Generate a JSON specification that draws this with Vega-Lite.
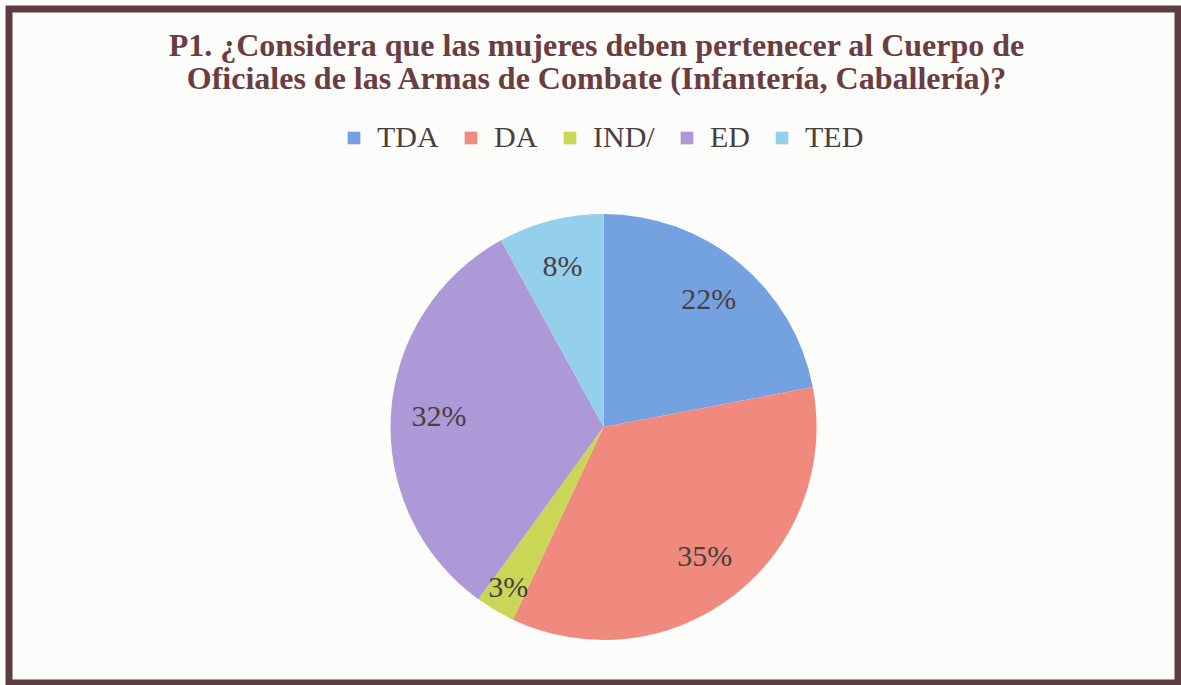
{
  "$schema": "https://vega.github.io/schema/vega-lite/v6.json",
  "width": 1169,
  "height": 674,
  "autosize": {"type": "none"},
  "padding": {"left": 9, "top": 9, "right": 3, "bottom": 2},
  "background": "#ffffff",
  "view": {"stroke": "#5e3b41", "strokeWidth": 7, "fill": "#fcfcfa"},
  "title": {
    "text": ["P1. ¿Considera que las mujeres deben pertenecer al Cuerpo de", "Oficiales de las Armas de Combate (Infantería, Caballería)?"],
    "anchor": "middle",
    "frame": "group",
    "orient": "top",
    "baseline": "top",
    "offset": -87,
    "dx": 3,
    "font": "Liberation Serif",
    "fontSize": 32,
    "fontWeight": "bold",
    "color": "#6a3d42",
    "lineHeight": 33
  },
  "data": {
    "values": [
      {"cat": "TDA", "escala": 1, "pct": 0.22},
      {"cat": "DA", "escala": 2, "pct": 0.35},
      {"cat": "IND/", "escala": 3, "pct": 0.03},
      {"cat": "ED", "escala": 4, "pct": 0.32},
      {"cat": "TED", "escala": 5, "pct": 0.08}
    ]
  },
  "encoding": {
    "theta": {"field": "pct", "type": "quantitative", "stack": true},
    "order": {"field": "escala", "type": "quantitative", "sort": "ascending"},
    "color": {
      "field": "cat",
      "type": "nominal",
      "sort": ["TDA", "DA", "IND/", "ED", "TED"],
      "scale": {"domain": ["TDA", "DA", "IND/", "ED", "TED"], "range": ["#74a1e0", "#f08a7e", "#cad655", "#ad98d8", "#94cfec"]},
      "legend": {
        "title": null,
        "orient": "none",
        "direction": "horizontal",
        "legendX": 330,
        "legendY": 114,
        "symbolType": "square",
        "symbolSize": 160,
        "symbolStrokeWidth": 0,
        "labelFont": "Liberation Serif",
        "labelFontSize": 30,
        "labelColor": "#4a3e3f",
        "labelOffset": 8,
        "columnPadding": 17
      }
    }
  },
  "layer": [
    {
      "mark": {"type": "arc", "outerRadius": 213, "x": {"expr": "width*0.5086"}, "y": {"expr": "height*0.6202"}}
    },
    {
      "mark": {"type": "text", "radius": 165, "font": "Liberation Serif", "fontSize": 30, "fill": "#4a3e3f", "x": {"expr": "width*0.5086"}, "y": {"expr": "height*0.6202"}},
      "encoding": {
        "text": {"field": "pct", "type": "quantitative", "format": ".0%"},
        "opacity": {"condition": {"test": "datum.cat == 'IND/'", "value": 0}, "value": 1}
      }
    },
    {
      "mark": {"type": "text", "radius": 187, "font": "Liberation Serif", "fontSize": 30, "fill": "#4a3e3f", "x": {"expr": "width*0.5086"}, "y": {"expr": "height*0.6202"}},
      "encoding": {
        "text": {"field": "pct", "type": "quantitative", "format": ".0%"},
        "opacity": {"condition": {"test": "datum.cat == 'IND/'", "value": 1}, "value": 0}
      }
    }
  ],
  "config": {
    "view": {"stroke": "#5e3b41", "strokeWidth": 7, "fill": "#fcfcfa"}
  }
}
